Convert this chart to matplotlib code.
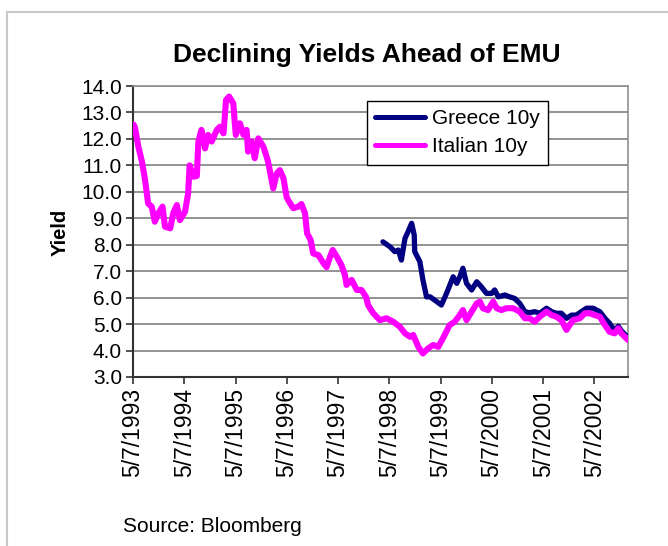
import matplotlib
matplotlib.use("Agg")
import matplotlib.pyplot as plt
from matplotlib.lines import Line2D

plt.rcParams['font.family'] = ['Liberation Sans', 'DejaVu Sans']

# decimal years (axis starts 5/7/1993) and 10y yields
italy_years = [
    1993.35, 1993.38, 1993.45, 1993.52, 1993.58, 1993.64, 1993.71, 1993.77, 1993.84, 1993.92,
    1993.97, 1994.07, 1994.13, 1994.20, 1994.26, 1994.36, 1994.42, 1994.45, 1994.52, 1994.59,
    1994.62, 1994.68, 1994.75, 1994.81, 1994.88, 1994.98, 1995.04, 1995.11, 1995.16, 1995.22,
    1995.30, 1995.35, 1995.43, 1995.50, 1995.56, 1995.59, 1995.66, 1995.72, 1995.79, 1995.89,
    1995.98, 1996.08, 1996.15, 1996.21, 1996.28, 1996.34, 1996.37, 1996.47, 1996.57, 1996.63,
    1996.70, 1996.74, 1996.81, 1996.86, 1996.96, 1997.06, 1997.12, 1997.19, 1997.24, 1997.32,
    1997.41, 1997.48, 1997.51, 1997.61, 1997.71, 1997.80, 1997.89, 1997.93, 1998.03, 1998.16,
    1998.29, 1998.42, 1998.55, 1998.65, 1998.75, 1998.81, 1998.91, 1999.00, 1999.10, 1999.20,
    1999.30, 1999.39, 1999.52, 1999.62, 1999.72, 1999.78, 1999.85, 1999.95, 2000.05, 2000.11,
    2000.17, 2000.27, 2000.37, 2000.44, 2000.53, 2000.63, 2000.76, 2000.89, 2000.99, 2001.08,
    2001.18, 2001.28, 2001.41, 2001.51, 2001.60, 2001.70, 2001.80, 2001.86, 2001.93, 2002.06,
    2002.16, 2002.25, 2002.35, 2002.45, 2002.55, 2002.64, 2002.74, 2002.81, 2002.87, 2002.97,
    2003.00,
]
italy_yield = [
    12.55, 12.46, 11.70, 11.14, 10.45, 9.56, 9.44, 8.87, 9.19, 9.44,
    8.68, 8.62, 9.19, 9.50, 8.93, 9.25, 9.94, 11.00, 10.57, 10.60,
    11.90, 12.34, 11.64, 12.15, 11.90, 12.34, 12.46, 12.21, 13.47, 13.60,
    13.35, 12.15, 12.59, 12.15, 12.34, 11.52, 11.90, 11.27, 12.02, 11.70,
    11.14, 10.13, 10.70, 10.82, 10.51, 9.81, 9.69, 9.38, 9.44, 9.54,
    9.19, 8.43, 8.18, 7.67, 7.61, 7.30, 7.15, 7.55, 7.80, 7.55,
    7.23, 6.85, 6.48, 6.67, 6.29, 6.29, 6.03, 5.72, 5.41, 5.15,
    5.22, 5.09, 4.90, 4.65, 4.52, 4.59, 4.14, 3.89, 4.08, 4.21,
    4.14, 4.46, 4.96, 5.09, 5.34, 5.53, 5.15, 5.47, 5.78, 5.85,
    5.60, 5.53, 5.85, 5.60, 5.53, 5.60, 5.60, 5.47, 5.22, 5.22,
    5.09, 5.28, 5.47, 5.34, 5.28, 5.15, 4.78, 4.96, 5.15, 5.22,
    5.41, 5.41, 5.34, 5.28, 4.96, 4.71, 4.65, 4.84, 4.65, 4.46,
    4.40,
]

greece_years = [
    1998.22, 1998.36, 1998.45, 1998.52, 1998.58, 1998.65, 1998.71, 1998.78, 1998.83, 1998.84,
    1998.94, 1999.00, 1999.07, 1999.14, 1999.27, 1999.36, 1999.46, 1999.59, 1999.66, 1999.72,
    1999.78, 1999.85, 1999.95, 2000.05, 2000.14, 2000.24, 2000.34, 2000.40, 2000.47, 2000.60,
    2000.69, 2000.79, 2000.89, 2000.99, 2001.08, 2001.18, 2001.28, 2001.41, 2001.51, 2001.60,
    2001.70, 2001.80, 2001.90, 2001.99, 2002.09, 2002.19, 2002.32, 2002.45, 2002.55, 2002.64,
    2002.74, 2002.81, 2002.87, 2002.97, 2003.00,
]
greece_yield = [
    8.11, 7.92, 7.74, 7.80, 7.42, 8.24, 8.49, 8.81, 8.37, 7.74,
    7.36, 6.67, 6.03, 6.03, 5.85, 5.72, 6.16, 6.79, 6.54, 6.79,
    7.11, 6.54, 6.29, 6.60, 6.41, 6.16, 6.16, 6.29, 6.03, 6.10,
    6.03, 5.97, 5.78, 5.47, 5.43, 5.47, 5.41, 5.60, 5.47, 5.41,
    5.41, 5.22, 5.34, 5.34, 5.47, 5.60, 5.60, 5.47, 5.22, 5.03,
    4.75, 4.92, 4.75, 4.55, 4.50,
]

tick_years = [1993.345 + k for k in range(10)]
tick_labels = ['5/7/%d' % (1993 + k) for k in range(10)]
y_ticks = [3, 4, 5, 6, 7, 8, 9, 10, 11, 12, 13, 14]

fig = plt.figure(figsize=(6.68, 5.46), dpi=100)
fig.patch.set_facecolor('white')

# light frame around the chart area
fig.add_artist(Line2D([7 / 668, 7 / 668], [0, 1 - 12 / 546], transform=fig.transFigure,
                      color='#c8c8c8', lw=1.5))
fig.add_artist(Line2D([7 / 668, 1], [1 - 12 / 546, 1 - 12 / 546], transform=fig.transFigure,
                      color='#c8c8c8', lw=1.5))

ax = fig.add_axes([133 / 668, 1 - 377 / 546, 495 / 668, 291 / 546])

ax.plot(greece_years, greece_yield, color='#000080', lw=3.8, label='Greece 10y',
        solid_joinstyle='round', solid_capstyle='round', zorder=3)
ax.plot(italy_years, italy_yield, color='#ff00ff', lw=4.4, label='Italian 10y',
        solid_joinstyle='round', solid_capstyle='round', zorder=4)

ax.set_xlim(1993.345, 2003.0)
ax.set_ylim(3, 14)
ax.set_yticks(y_ticks)
ax.set_yticklabels(['%.1f' % v for v in y_ticks])
ax.set_xticks(tick_years)
ax.set_xticklabels(tick_labels, rotation=90)
ax.tick_params(axis='both', length=5, width=1.2, color='#333333', direction='out', pad=3)
ax.tick_params(axis='y', labelsize=15)
ax.tick_params(axis='x', labelsize=16.5)

ax.yaxis.grid(True, color='#808080', lw=1.2)
ax.set_axisbelow(True)
for side in ('top', 'right'):
    ax.spines[side].set_color('#909090')
    ax.spines[side].set_linewidth(1.2)
for side in ('left', 'bottom'):
    ax.spines[side].set_color('#333333')
    ax.spines[side].set_linewidth(1.5)

leg = ax.legend(loc='upper left', bbox_to_anchor=(0.473, 0.948), fontsize=15,
                frameon=True, fancybox=False, framealpha=1, edgecolor='black',
                handlelength=2.4, handletextpad=0.3, borderpad=0.4, labelspacing=0.42,
                borderaxespad=0)
leg.get_frame().set_linewidth(1.0)
for line in leg.get_lines():
    line.set_linewidth(3.6)

fig.text(367 / 668, 1 - 55 / 546, 'Declining Yields Ahead of EMU', ha='center', va='center',
         fontsize=19, fontweight='bold')
fig.text(60 / 668, 1 - 232 / 546, 'Yield', ha='center', va='center', rotation=90,
         fontsize=14.5, fontweight='bold')
fig.text(123 / 668, 1 - 527 / 546, 'Source: Bloomberg', ha='left', va='center', fontsize=15)

fig.savefig('out.png', dpi=100, facecolor='white')
